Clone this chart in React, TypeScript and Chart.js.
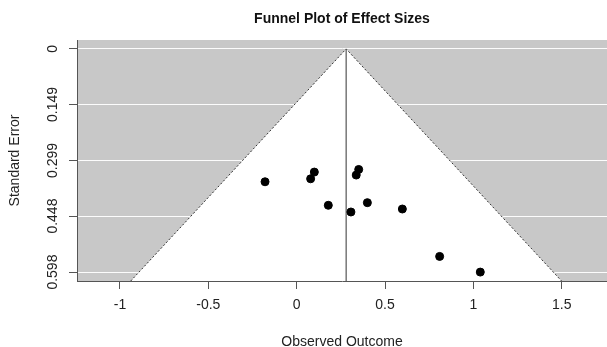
import React, { useEffect, useRef } from "react";
import { Chart, registerables } from "chart.js";

Chart.register(...registerables);

// ---- Data ----
const effectSizes = [-0.179, 0.100, 0.079, 0.179, 0.351, 0.337, 0.400, 0.307, 0.598, 0.809, 1.039];
const standardErrors = [0.356, 0.330, 0.348, 0.419, 0.323, 0.338, 0.412, 0.437, 0.429, 0.556, 0.598];
const pooledEstimate = 0.28;
const zCrit = 1.96;

const xTickValues = [-1, -0.5, 0, 0.5, 1, 1.5];
const xTickLabels = ["-1", "-0.5", "0", "0.5", "1", "1.5"];
const yTickValues = [0, 0.149, 0.299, 0.448, 0.598];
const yTickLabels = ["0", "0.149", "0.299", "0.448", "0.598"];

const xMin = -1.243;
const xMax = 1.756;
const yMin = -0.0239;
const yMax = 0.6219;

const titleText = "Funnel Plot of Effect Sizes";
const xTitle = "Observed Outcome";
const yTitle = "Standard Error";

const FONT = "'Liberation Sans', Arial, Helvetica, sans-serif";

const decorations = {
  id: "decorations",
  beforeDraw(chart: any) {
    const { ctx, chartArea: a } = chart;
    ctx.save();
    ctx.fillStyle = "#c8c8c8";
    ctx.fillRect(a.left, a.top, a.right - a.left, a.bottom - a.top);
    ctx.restore();
  },
  afterDraw(chart: any) {
    const { ctx, chartArea: a } = chart;
    const ys = chart.scales.y;
    ctx.save();
    ctx.fillStyle = "#222";
    ctx.textAlign = "center";
    ctx.textBaseline = "middle";
    ctx.font = `14px ${FONT}`;
    yTickValues.forEach((v, i) => {
      const py = ys.getPixelForValue(v);
      ctx.save();
      ctx.translate(a.left - 24, py);
      ctx.rotate(-Math.PI / 2);
      ctx.fillText(yTickLabels[i], 0, 0);
      ctx.restore();
    });
    ctx.fillStyle = "#111";
    ctx.font = `bold 14px ${FONT}`;
    ctx.fillText(titleText, (a.left + a.right) / 2, 19);
    ctx.restore();
  },
};

export default function App() {
  const ref = useRef<HTMLCanvasElement | null>(null);

  useEffect(() => {
    document.body.style.margin = "0";
    if (!ref.current) return;
    const funnel = [
      { x: pooledEstimate - zCrit * yMax, y: yMax },
      { x: pooledEstimate, y: 0 },
      { x: pooledEstimate + zCrit * yMax, y: yMax },
    ];
    const vline = [
      { x: pooledEstimate, y: 0 },
      { x: pooledEstimate, y: yMax },
    ];
    const points = effectSizes.map((x, i) => ({ x, y: standardErrors[i] }));

    const chart = new Chart(ref.current, {
      type: "scatter",
      data: {
        datasets: [
          {
            type: "scatter",
            data: points,
            backgroundColor: "#000",
            borderColor: "#000",
            pointRadius: 4,
            pointHoverRadius: 4,
            order: 0,
          } as any,
          {
            type: "line",
            data: vline,
            borderColor: "#555",
            borderWidth: 1.2,
            pointRadius: 0,
            fill: false,
            order: 1,
          } as any,
          {
            type: "line",
            data: funnel,
            borderColor: "#333",
            borderWidth: 1,
            borderDash: [2, 2],
            backgroundColor: "#ffffff",
            pointRadius: 0,
            tension: 0,
            fill: { value: yMax },
            order: 2,
          } as any,
        ],
      },
      options: {
        responsive: false,
        animation: false,
        events: [],
        layout: { autoPadding: false, padding: { top: 40, left: 0, right: 0, bottom: 0 } },
        plugins: {
          legend: { display: false },
          tooltip: { enabled: false },
          title: { display: false },
        },
        scales: {
          x: {
            type: "linear",
            min: xMin,
            max: xMax,
            afterBuildTicks: (s: any) => {
              s.ticks = xTickValues.map((v) => ({ value: v }));
            },
            afterFit: (s: any) => {
              s.height = 66;
            },
            ticks: {
              callback: (v: any) => {
                const i = xTickValues.indexOf(Number(v));
                return i >= 0 ? xTickLabels[i] : "";
              },
              font: { family: FONT, size: 14 },
              color: "#222",
              padding: 8,
              maxRotation: 0,
              minRotation: 0,
              autoSkip: false,
            },
            grid: {
              drawOnChartArea: false,
              tickLength: 8,
              tickColor: "#555",
              tickWidth: 1,
            },
            border: { display: true, color: "#555", width: 1 },
            title: {
              display: true,
              text: xTitle,
              font: { family: FONT, size: 14, lineHeight: 1 },
              color: "#222",
              padding: { top: 0, bottom: -2 },
            },
          },
          y: {
            type: "linear",
            reverse: true,
            min: yMin,
            max: yMax,
            afterBuildTicks: (s: any) => {
              s.ticks = yTickValues.map((v) => ({ value: v }));
            },
            afterFit: (s: any) => {
              s.width = 77;
            },
            ticks: { display: false },
            grid: {
              color: "rgba(255,255,255,0.95)",
              lineWidth: 1,
              tickLength: 8,
              tickColor: "#555",
              tickWidth: 1,
            },
            border: { display: true, color: "#555", width: 1 },
            title: {
              display: true,
              text: yTitle,
              font: { family: FONT, size: 14 },
              color: "#222",
              padding: { top: 7, bottom: 0 },
            },
          },
        },
      },
      plugins: [decorations],
    } as any);

    return () => chart.destroy();
  }, []);

  return (
    <div style={{ width: 607, height: 347 }}>
      <canvas ref={ref} width={607} height={347} style={{ display: "block" }} />
    </div>
  );
}
